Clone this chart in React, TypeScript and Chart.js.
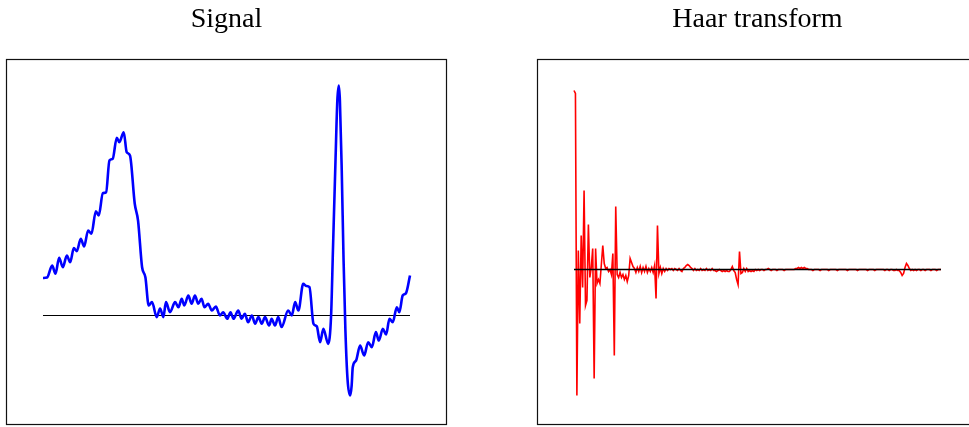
import React, { useEffect, useRef } from "react";
import { Chart, registerables } from "chart.js";

Chart.register(...registerables);

// Signal (time in s, amplitude in mV)
const signalTime = [
  0.000, 0.011, 0.025, 0.034, 0.044, 0.054, 0.065, 0.074, 0.084, 0.092,
  0.103, 0.112, 0.123, 0.132, 0.144, 0.152, 0.163, 0.172, 0.181, 0.190,
  0.201, 0.208, 0.220, 0.228, 0.237, 0.250, 0.259, 0.270, 0.279, 0.288,
  0.297, 0.310, 0.319, 0.328, 0.335, 0.346, 0.360, 0.369, 0.378, 0.385,
  0.396, 0.405, 0.414, 0.423, 0.432, 0.440, 0.450, 0.460, 0.471, 0.482,
  0.491, 0.502, 0.511, 0.519, 0.532, 0.541, 0.550, 0.559, 0.569, 0.578,
  0.587, 0.596, 0.605, 0.616, 0.623, 0.632, 0.641, 0.650, 0.668, 0.678,
  0.687, 0.696, 0.709, 0.717, 0.726, 0.737, 0.746, 0.755, 0.764, 0.777,
  0.785, 0.790, 0.797, 0.802, 0.806, 0.809, 0.814, 0.819, 0.824, 0.830,
  0.837, 0.841, 0.844, 0.853, 0.864, 0.875, 0.886, 0.896, 0.907, 0.915,
  0.926, 0.935, 0.944, 0.953, 0.964, 0.971, 0.980, 0.989, 1.000,
];
const signalValue = [
  0.250, 0.253, 0.333, 0.278, 0.385, 0.322, 0.400, 0.355, 0.449, 0.429,
  0.511, 0.460, 0.567, 0.545, 0.695, 0.667, 0.815, 0.822, 1.033, 1.045,
  1.185, 1.155, 1.222, 1.089, 1.067, 0.745, 0.633, 0.322, 0.255, 0.067,
  0.089, -0.011, 0.047, -0.011, 0.089, 0.022, 0.089, 0.055, 0.111, 0.067,
  0.133, 0.078, 0.133, 0.078, 0.111, 0.055, 0.078, 0.033, 0.060, 0.000,
  0.022, -0.022, 0.022, -0.022, 0.033, -0.022, 0.011, -0.045, 0.000, -0.055,
  -0.011, -0.055, -0.011, -0.067, -0.022, -0.067, -0.011, -0.077, 0.033, 0.000,
  0.089, 0.033, 0.211, 0.197, 0.189, -0.055, -0.073, -0.178, -0.089, -0.189,
  0.000, 0.433, 1.033, 1.433, 1.533, 1.433, 0.967, 0.367, -0.100, -0.433,
  -0.533, -0.467, -0.345, -0.300, -0.200, -0.267, -0.178, -0.211, -0.111, -0.167,
  -0.089, -0.127, -0.022, -0.045, 0.055, 0.022, 0.133, 0.149, 0.267,
];

// Haar transform coefficients (256, coarse to fine)
const haarCoef = [
  1.79, 1.76, -1.26, 0.19, -0.54, 0.34, -0.18, 0.79, -0.36, -0.31, 0.45, -0.08, 0.02, 0.21, -1.09, 0.21,
  -0.14, -0.10, -0.14, 0.05, 0.24, 0.06, 0.01, 0.02, -0.02, 0.00, -0.05, 0.16, -0.86, 0.63, -0.05, -0.08,
  -0.03, -0.08, -0.05, -0.10, -0.06, -0.12, -0.06, 0.11, 0.07, 0.03, 0.01, -0.03, 0.02, -0.02, 0.03, -0.03,
  0.02, -0.02, 0.03, -0.03, 0.01, -0.02, 0.02, -0.03, 0.04, -0.29, 0.44, -0.04, 0.02, -0.04, 0.01, -0.02,
  0.01, -0.01, 0.01, 0.00, 0.01, -0.01, 0.01, 0.00, -0.01, 0.01, -0.01, -0.02, 0.01, 0.02, 0.04, 0.05,
  0.04, 0.02, 0.01, -0.01, 0.01, -0.01, 0.00, -0.01, 0.01, -0.01, 0.00, -0.01, 0.01, -0.01, 0.00, -0.01,
  0.01, -0.01, -0.01, -0.02, -0.01, 0.00, -0.01, -0.02, -0.01, -0.02, -0.01, -0.02, -0.02, 0.00, 0.03, -0.01,
  -0.03, -0.10, -0.15, 0.18, -0.04, -0.03, 0.01, -0.02, 0.01, -0.02, -0.01, -0.02, -0.01, -0.02, 0.00, -0.01,
  0.00, -0.01, 0.00, 0.00, -0.01, 0.00, 0.00, 0.01, 0.00, -0.01, 0.00, 0.00, 0.00, -0.01, 0.00, 0.00,
  0.00, 0.00, -0.01, 0.00, 0.00, 0.00, 0.00, 0.00, 0.00, 0.00, 0.01, 0.01, 0.02, 0.01, 0.02, 0.01,
  0.02, 0.01, 0.01, 0.00, 0.00, 0.00, -0.01, 0.00, 0.00, 0.00, 0.00, -0.01, 0.00, 0.00, 0.00, 0.00,
  0.00, -0.01, 0.00, 0.00, 0.00, 0.00, 0.00, -0.01, 0.00, 0.00, 0.00, 0.00, 0.00, 0.00, -0.01, 0.00,
  0.00, 0.00, 0.00, 0.00, 0.00, -0.01, 0.00, 0.00, 0.00, 0.00, 0.00, 0.00, -0.01, 0.00, 0.00, 0.00,
  0.00, -0.01, 0.00, 0.00, 0.00, 0.00, 0.00, 0.00, -0.01, 0.00, 0.00, -0.01, 0.00, 0.00, -0.01, -0.01,
  0.00, -0.01, -0.01, -0.03, -0.06, -0.04, 0.02, 0.06, 0.04, 0.01, -0.01, 0.00, -0.01, 0.00, -0.01, 0.00,
  0.00, -0.01, 0.00, 0.00, -0.01, 0.00, 0.00, 0.00, -0.01, 0.00, 0.00, 0.00, -0.01, 0.00, 0.00, 0.00,
];

const titles = ["Signal", "Haar transform"];

const boxPlugin = {
  id: "boxFrame",
  afterDraw(chart: any) {
    const { ctx, chartArea } = chart;
    ctx.save();
    ctx.strokeStyle = "#111";
    ctx.lineWidth = 1.2;
    ctx.strokeRect(
      Math.round(chartArea.left) + 0.5,
      Math.round(chartArea.top) + 0.5,
      Math.round(chartArea.right - chartArea.left) - 1,
      Math.round(chartArea.bottom - chartArea.top) - 1
    );
    ctx.restore();
  },
};

function makeOptions(title: string, xmin: number, xmax: number, ymin: number, ymax: number, padLeft: number, padRight: number) {
  return {
    animation: false as const,
    responsive: false,
    maintainAspectRatio: false,
    events: [],
    layout: { padding: { left: padLeft, right: padRight, top: 0, bottom: 2 } },
    plugins: {
      legend: { display: false },
      tooltip: { enabled: false },
      title: {
        display: true,
        text: title,
        color: "#000",
        font: { family: "'Liberation Serif', 'DejaVu Serif', serif", size: 28, weight: "normal" as const, lineHeight: 1.2 },
        padding: { top: 3, bottom: 22.4 },
      },
    },
    scales: {
      x: { type: "linear" as const, min: xmin, max: xmax, display: false },
      y: { type: "linear" as const, min: ymin, max: ymax, display: false },
    },
  };
}

function SignalChart() {
  const ref = useRef<HTMLCanvasElement>(null);
  useEffect(() => {
    if (!ref.current) return;
    const pts = signalTime.map((t, i) => ({ x: t, y: signalValue[i] }));
    const chart = new Chart(ref.current, {
      type: "line",
      data: {
        datasets: [
          {
            data: pts,
            borderColor: "#0000ff",
            borderWidth: 2.6,
            pointRadius: 0,
            cubicInterpolationMode: "monotone",
            fill: false,
          },
          {
            data: [
              { x: signalTime[0], y: 0 },
              { x: signalTime[signalTime.length - 1], y: 0 },
            ],
            borderColor: "#000",
            borderWidth: 1,
            pointRadius: 0,
            fill: false,
          },
        ],
      },
      options: makeOptions(titles[0], -0.1008, 1.1008, -0.7300, 1.7100, 6, 37) as any,
      plugins: [boxPlugin],
    });
    return () => chart.destroy();
  }, []);
  return <canvas ref={ref} width={484} height={427} style={{ position: "absolute", left: 0, top: 0, width: 484, height: 427 }} />;
}

function HaarChart() {
  const ref = useRef<HTMLCanvasElement>(null);
  useEffect(() => {
    if (!ref.current) return;
    const pts = haarCoef.map((v, i) => ({ x: i, y: v }));
    const chart = new Chart(ref.current, {
      type: "line",
      data: {
        datasets: [
          {
            data: [
              { x: 0, y: 0 },
              { x: haarCoef.length - 1, y: 0 },
            ],
            borderColor: "#000",
            borderWidth: 1.7,
            pointRadius: 0,
            fill: false,
          },
          {
            data: pts,
            borderColor: "#ff0000",
            borderWidth: 1.6,
            pointRadius: 0,
            tension: 0,
            fill: false,
          },
        ],
      },
      options: makeOptions(titles[1], -25.71, 280.71, -1.555, 2.105, 53, 0) as any,
      plugins: [boxPlugin],
    });
    return () => chart.destroy();
  }, []);
  return <canvas ref={ref} width={494} height={427} style={{ position: "absolute", left: 484, top: 0, width: 494, height: 427 }} />;
}

export default function App() {
  return (
    <div style={{ position: "fixed", left: 0, top: 0, width: 969, height: 427, overflow: "hidden", background: "#fff" }}>
      <SignalChart />
      <HaarChart />
    </div>
  );
}
